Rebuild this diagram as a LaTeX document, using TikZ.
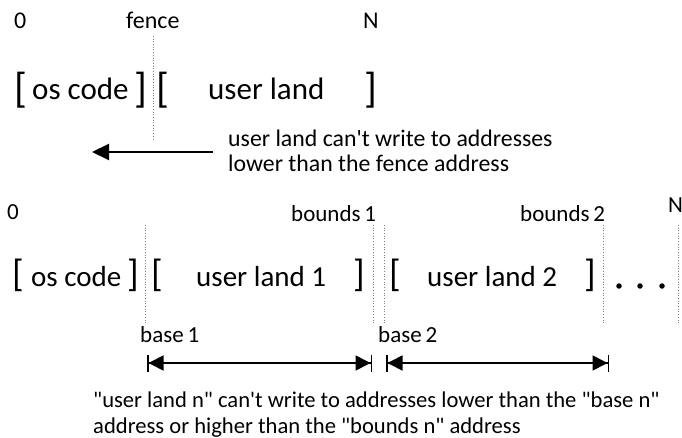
\documentclass[tikz,border=0pt]{standalone}
\usepackage{fontspec}
\setmainfont{Carlito}[Ligatures=TeXOff]
\usetikzlibrary{arrows.meta}
\newcommand{\fsz}[1]{\fontsize{#1pt}{#1pt}\selectfont}
\tikzset{
  lbl/.style={inner sep=0pt, anchor=base west, font=\fsz{24}},
  lblb/.style={inner sep=0pt, anchor=base west, font=\fsz{23}},
  big/.style={inner sep=0pt, anchor=base west, font=\fsz{31}},
  bigb/.style={inner sep=0pt, anchor=base west, font=\fsz{29}},
  brk/.style={inner sep=0pt, anchor=north west, font=\fsz{42}},
  brkb/.style={inner sep=0pt, anchor=north west, font=\fsz{38}},
  desc/.style={inner sep=0pt, anchor=base west, font=\fsz{23.8}},
  descb/.style={inner sep=0pt, anchor=base west, font=\fsz{22.6}},
  fenceline/.style={draw=gray, dotted, line width=0.7pt},
  toparrow/.style={line width=2pt, -{Triangle[length=17pt,width=16pt]}},
  rangearrow/.style={line width=1.7pt,
    {Bar[width=17pt,line width=1.5pt]Triangle[length=15pt,width=15pt]}-{Triangle[length=15pt,width=15pt]Bar[width=17pt,line width=1.5pt]}},
  dotnode/.style={circle, fill=black, inner sep=0pt, minimum size=5.5pt}
}
\begin{document}
\begin{tikzpicture}[x=1pt,y=-1pt]
\useasboundingbox (0,0) rectangle (682,438);
% ---------- top diagram ----------
\node[lbl] (t0) at (14,29) {0};
\node[lbl] (tfence) at (126,29) {fence};
\node[lbl] (tN) at (363,29) {N};
\node[brk] (tb1) at (14,72) {[};
\node[big] (tos) at (32,100) {os code};
\node[brk] (tb2) at (134,72) {]};
\node[brk] (tb3) at (156,72) {[};
\node[big] (tul) at (208,100) {user land};
\node[brk] (tb4) at (364,72) {]};
\coordinate (f0) at (153,36);
\coordinate (f1) at (153,140);
\draw[fenceline] (f0) -- (f1);
\coordinate (a0) at (213,152);
\coordinate (a1) at (92,152);
\draw[toparrow] (a0) -- (a1);
\node[desc] (td1) at (228,147) {user land can't write to addresses};
\node[desc] (td2) at (228,172) {lower than the fence address};
% ---------- bottom diagram ----------
\node[lblb] (b0) at (7,220) {0};
\node[lblb] (bb1) at (291,222) {bounds\,1};
\node[lblb] (bb2) at (520,222) {bounds\,2};
\node[lblb] (bN) at (668,213) {N};
\node[brkb] (bk1) at (12,259) {[};
\node[bigb] (bos) at (31,286) {os code};
\node[brkb] (bk2) at (127,259) {]};
\node[brkb] (bk3) at (151,259) {[};
\node[bigb] (bul1) at (196,286) {user land 1};
\node[brkb] (bk4) at (353,259) {]};
\node[brkb] (bk5) at (389,259) {[};
\node[bigb] (bul2) at (427,286) {user land 2};
\node[brkb] (bk6) at (584,259) {]};
\node[dotnode] (d1) at (619,286) {};
\node[dotnode] (d2) at (640,286) {};
\node[dotnode] (d3) at (662,286) {};
\foreach \n/\x in {l1/145, l2/373, l3/384, l4/603, l5/678} {
  \coordinate (\n t) at (\x,225);
  \coordinate (\n b) at (\x,323);
  \draw[fenceline] (\n t) -- (\n b);
}
\node[lblb] (base1) at (140,342) {base\,1};
\node[lblb] (base2) at (378,342) {base\,2};
\coordinate (r1a) at (147,363);
\coordinate (r1b) at (372,363);
\coordinate (r2a) at (386,363);
\coordinate (r2b) at (609,363);
\draw[rangearrow] (r1a) -- (r1b);
\draw[rangearrow] (r2a) -- (r2b);
\node[descb] (bd1) at (93,407) {"user land n" can't write to addresses lower than the "base n"};
\node[descb] (bd2) at (93,433) {address or higher than the "bounds n" address};
\end{tikzpicture}
\end{document}
